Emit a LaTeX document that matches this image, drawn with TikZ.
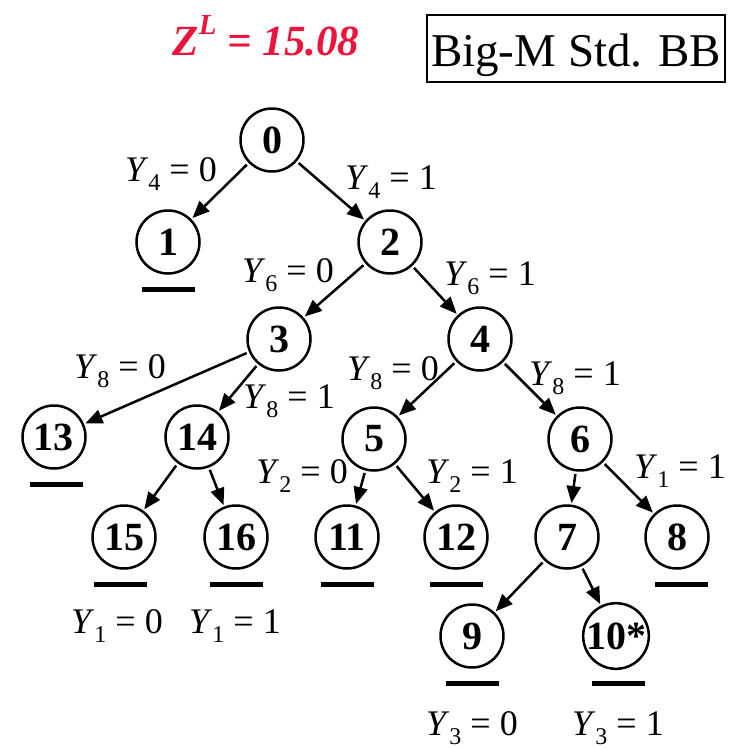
\documentclass[tikz,border=0pt]{standalone}
\usepackage{fontspec}
\setmainfont{Liberation Serif}
\usetikzlibrary{arrows.meta}
\definecolor{zred}{RGB}{235,20,60}
\newcommand\ysub[1]{\raisebox{-0.25em}{\fontsize{24}{24}\selectfont #1}}
\newcommand\ylab[2]{\textit{Y}\ysub{#1} = #2}
\tikzset{
  bb/.style={circle, draw, line width=2.5pt, minimum size=63pt, inner sep=0pt,
    font=\fontsize{40}{40}\selectfont\bfseries},
  bbedge/.style={line width=2.5pt, -{Triangle[length=17pt,width=14pt]},
    shorten <=2.5pt, shorten >=1.5pt},
  lab/.style={anchor=base, font=\fontsize{36}{40}\selectfont, inner sep=0pt},
  ul/.style={line width=5pt}
}
\newcommand\uline[2][0pt]{\draw[ul] ([xshift=-26pt+#1,yshift=-47pt]#2.center) -- ([xshift=27pt+#1,yshift=-47pt]#2.center);}
\begin{document}
\begin{tikzpicture}[x=1pt,y=-1pt]
\useasboundingbox (0,0) rectangle (737,748);
% title
\node[anchor=base, inner sep=0pt, text=zred, font=\fontsize{43}{44}\selectfont\bfseries\itshape] (zl) at (266,55)
  {Z\raisebox{0.48em}{\fontsize{29}{29}\selectfont L} = 15.08};
\node[draw, line width=2.5pt, inner sep=0pt, minimum width=298pt, minimum height=67pt] (box) at (576,48.5) {};
\node[anchor=base, inner sep=0pt, font=\fontsize{47}{50}\selectfont] (boxtext) at (576,66) {Big-M Std. BB};
% nodes
\node[bb] (n0) at (272,140) {0};
\node[bb] (n1) at (168,242) {1};
\node[bb] (n2) at (390,242) {2};
\node[bb] (n3) at (279,339) {3};
\node[bb] (n4) at (480,339) {4};
\node[bb] (n13) at (54,437) {13};
\node[bb] (n14) at (197,437) {14};
\node[bb] (n5) at (374,439) {5};
\node[bb] (n6) at (580,439) {6};
\node[bb] (n15) at (124,537) {15};
\node[bb] (n16) at (236,537) {16};
\node[bb] (n11) at (347,537) {11};
\node[bb] (n12) at (456,537) {12};
\node[bb] (n7) at (567,537) {7};
\node[bb] (n8) at (677,537) {8};
\node[bb] (n9) at (472,636) {9};
\node[bb] (n10) at (616,636) {10*};
% edges
\draw[bbedge] (n0) -- (n1);
\draw[bbedge] (n0) -- (n2);
\draw[bbedge] (n2) -- (n3);
\draw[bbedge] (n2) -- (n4);
\draw[bbedge] (n3) -- (n13);
\draw[bbedge] (n3) -- (n14);
\draw[bbedge] (n4) -- (n5);
\draw[bbedge] (n4) -- (n6);
\draw[bbedge] (n14) -- (n15);
\draw[bbedge] (n14) -- (n16);
\draw[bbedge] (n5) -- (n11);
\draw[bbedge] (n5) -- (n12);
\draw[bbedge] (n6) -- (n7);
\draw[bbedge] (n6) -- (n8);
\draw[bbedge] (n7) -- (n9);
\draw[bbedge] (n7) -- (n10);
% underlines
\uline{n1}
\uline[2pt]{n13}
\uline[-4pt]{n15}
\uline{n16}
\uline{n11}
\uline{n12}
\uline[4pt]{n8}
\uline{n9}
\uline[2pt]{n10}
% labels
\node[lab] (l1) at (171,181) {\ylab{4}{0}};
\node[lab] (l2) at (391,189) {\ylab{4}{1}};
\node[lab] (l3) at (288,282) {\ylab{6}{0}};
\node[lab] (l4) at (490,285) {\ylab{6}{1}};
\node[lab] (l5) at (120,378) {\ylab{8}{0}};
\node[lab] (l6) at (289,408) {\ylab{8}{1}};
\node[lab] (l7) at (393,380) {\ylab{8}{0}};
\node[lab] (l8) at (575,385) {\ylab{8}{1}};
\node[lab] (l9) at (302,483) {\ylab{2}{0}};
\node[lab] (l10) at (472,483) {\ylab{2}{1}};
\node[lab] (l11) at (680,478) {\ylab{1}{1}};
\node[lab] (l12) at (117,633) {\ylab{1}{0}};
\node[lab] (l13) at (235,633) {\ylab{1}{1}};
\node[lab] (l14) at (472,735) {\ylab{3}{0}};
\node[lab] (l15) at (618,735) {\ylab{3}{1}};
\end{tikzpicture}
\end{document}
